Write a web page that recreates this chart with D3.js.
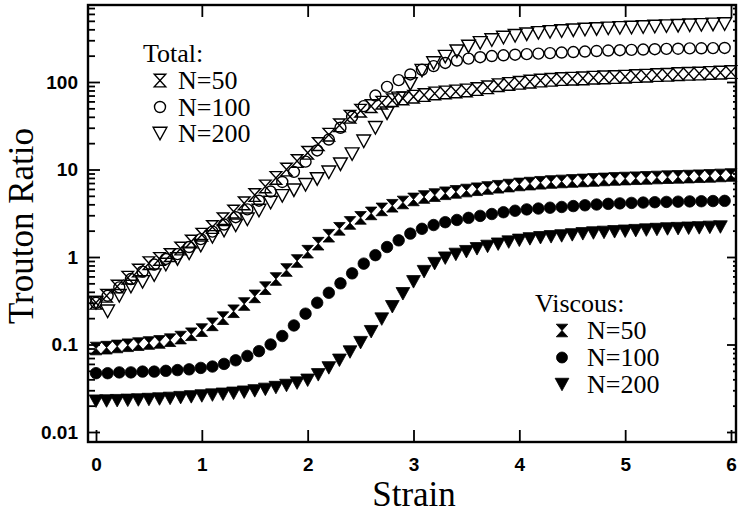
<!DOCTYPE html>
<html><head><meta charset="utf-8">
<script src="https://cdn.jsdelivr.net/npm/d3@7"></script>
<style>body{margin:0;background:#fff}</style>
</head><body>
<svg id="chart" width="738" height="515"></svg>
<script>
// ---- data ----
const strainA = [0,0.11,0.22,0.33,0.44,0.55,0.66,0.77,0.88,0.99,1.10,1.21,1.32,1.43,1.54,1.65,1.76,1.87,1.98,2.09,2.20,2.31,2.42,2.53,2.64,2.75,2.86,2.97,3.08,3.19,3.30,3.41,3.52,3.63,3.74,3.85,3.96,4.07,4.18,4.29,4.40,4.51,4.62,4.73,4.84,4.95,5.06,5.17,5.28,5.39,5.50,5.61,5.72,5.83,5.94];
const strainB = [0,0.1,0.2,0.3,0.4,0.5,0.6,0.7,0.8,0.9,1.0,1.1,1.2,1.3,1.4,1.5,1.6,1.7,1.8,1.9,2.0,2.1,2.2,2.3,2.4,2.5,2.6,2.7,2.8,2.9,3.0,3.1,3.2,3.3,3.4,3.5,3.6,3.7,3.8,3.9,4.0,4.1,4.2,4.3,4.4,4.5,4.6,4.7,4.8,4.9,5.0,5.1,5.2,5.3,5.4,5.5,5.6,5.7,5.8,5.9,6.0];

// Viscous (filled symbols)
const viscous50 = [0.090,0.092,0.095,0.098,0.101,0.104,0.107,0.112,0.120,0.131,0.146,0.170,0.200,0.240,0.290,0.355,0.44,0.56,0.71,0.90,1.15,1.42,1.75,2.10,2.45,2.80,3.15,3.50,3.85,4.20,4.55,4.85,5.10,5.35,5.55,5.75,5.95,6.15,6.35,6.55,6.75,6.90,7.05,7.20,7.30,7.40,7.50,7.60,7.70,7.80,7.88,7.95,8.02,8.10,8.17,8.24,8.30,8.38,8.45,8.55,8.65];
const viscous100 = [0.047,0.047,0.048,0.048,0.049,0.049,0.050,0.051,0.052,0.054,0.056,0.060,0.066,0.074,0.084,0.100,0.125,0.165,0.225,0.30,0.39,0.50,0.65,0.84,1.05,1.30,1.55,1.85,2.10,2.32,2.50,2.65,2.80,2.95,3.10,3.25,3.38,3.50,3.58,3.66,3.73,3.82,3.90,3.98,4.05,4.10,4.15,4.19,4.23,4.26,4.29,4.32,4.34,4.36,4.38];
const viscous200 = [0.0225,0.0226,0.0228,0.0230,0.0232,0.0235,0.0238,0.0242,0.0247,0.0252,0.0258,0.0264,0.0270,0.0277,0.0285,0.0295,0.0307,0.0322,0.0340,0.0362,0.039,0.045,0.054,0.066,0.082,0.105,0.140,0.195,0.27,0.38,0.52,0.68,0.84,0.97,1.07,1.15,1.24,1.32,1.40,1.48,1.55,1.61,1.66,1.70,1.74,1.79,1.84,1.88,1.91,1.94,1.97,2.00,2.03,2.06,2.09,2.11,2.13,2.15,2.18,2.20];

// Total (open symbols)
const total50 = [0.30,0.36,0.46,0.58,0.70,0.85,0.95,1.05,1.25,1.50,1.80,2.2,2.7,3.3,4.1,5.1,6.4,8.0,10.0,12.5,15.5,19.5,25,32,40,47,53,58,62,65,68,71,74,76,78,80,83,87,92,95,98,101,104,106,108,109,110,112,113,114,115,117,118,120,121,123,124,125,127,128,130];
const total100 = [0.30,0.36,0.45,0.56,0.68,0.82,0.95,1.08,1.30,1.60,1.95,2.35,2.85,3.5,4.4,5.6,7.2,9.4,12.3,16.5,22,30,40,53,70,88,105,122,138,152,165,176,185,192,198,202,205,208,211,214,217,220,223,226,229,231,233,235,237,239,240,242,243,244,245];
const total200 = [0.30,0.24,0.36,0.46,0.52,0.62,0.82,0.95,1.10,1.35,1.70,2.00,2.30,2.70,3.40,4.20,5.00,5.80,6.70,7.80,9.3,11.5,15,21,30,44,65,95,135,165,195,225,255,280,302,322,338,352,364,374,383,391,398,404,410,415,420,425,430,435,440,445,450,455,460];

const xTickValues = [0,1,2,3,4,5,6];
const xTickLabels = ["0","1","2","3","4","5","6"];
const yTickValues = [0.01,0.1,1,10,100];
const yTickLabels = ["0.01","0.1","1","10","100"];
const yMinorValues = [0.02,0.03,0.04,0.05,0.06,0.07,0.08,0.09,0.2,0.3,0.4,0.5,0.6,0.7,0.8,0.9,2,3,4,5,6,7,8,9,20,30,40,50,60,70,80,90,200,300,400,500,600,700];

const legendTotal = ["N=50","N=100","N=200"];
const legendViscous = ["N=50","N=100","N=200"];

// ---- layout ----
const svg = d3.select("#chart");
const L = 88, R = 736, T = 5, B = 442;
const x = d3.scaleLinear().domain([0, 6]).range([96, 731]);
const y = d3.scaleLog().domain([0.01, 1000]).range([432, -5.5]);

// symbol paths
function hourglass(s){ const w=s*0.5, h=s*0.55; return `M${-w},${-h}L${w},${-h}L${-w},${h}L${w},${h}Z`; }
function triDown(s){ const w=s*0.55, h=s*0.5; return `M${-w},${-h}L${w},${-h}L0,${h}Z`; }
function circle(s){ const r=s*0.5; return `M${r},0A${r},${r} 0 1,1 ${-r},0A${r},${r} 0 1,1 ${r},0Z`; }

const series = [
  {xs: strainB, ys: total50,   shape: hourglass, size: 11.5, filled: false},
  {xs: strainA, ys: total100,  shape: circle,    size: 11,   filled: false},
  {xs: strainA, ys: total200,  shape: triDown,   size: 12.5, filled: false},
  {xs: strainB, ys: viscous50, shape: hourglass, size: 11.5, filled: true},
  {xs: strainA, ys: viscous100,shape: circle,    size: 11.5, filled: true},
  {xs: strainB, ys: viscous200,shape: triDown,   size: 12.5, filled: true}
];

series.forEach(s => {
  const pts = s.ys.map((v, i) => [s.xs[i], v]);
  svg.append("g").selectAll("path").data(pts).join("path")
    .attr("transform", d => `translate(${x(d[0])},${y(d[1])})`)
    .attr("d", s.shape(s.size))
    .attr("fill", s.filled ? "#000" : "none")
    .attr("stroke", "#000")
    .attr("stroke-width", s.filled ? 0.8 : 1.4)
    .attr("stroke-linejoin", "miter");
});

// axes
const tickFont = "'Liberation Sans', Arial, Helvetica, sans-serif";
function styleAxis(g){
  g.select(".domain").remove();
  g.selectAll(".tick line").attr("stroke","#000").attr("stroke-width",1.8);
  g.selectAll(".tick text").attr("fill","#000").attr("font-family",tickFont).attr("font-weight","bold").attr("font-size",19);
}
svg.append("g").attr("transform",`translate(${L},0)`)
  .call(d3.axisLeft(y).tickValues(yTickValues).tickSize(-12).tickPadding(10).tickFormat((d,i)=>yTickLabels[i]))
  .call(styleAxis);
svg.append("g").attr("transform",`translate(${L},0)`)
  .call(d3.axisLeft(y).tickValues(yMinorValues).tickSize(-7).tickFormat(""))
  .call(styleAxis);
svg.append("g").attr("transform",`translate(${R},0)`)
  .call(d3.axisRight(y).tickValues(yTickValues).tickSize(-9).tickFormat(""))
  .call(styleAxis);
svg.append("g").attr("transform",`translate(${R},0)`)
  .call(d3.axisRight(y).tickValues(yMinorValues).tickSize(-3).tickFormat(""))
  .call(styleAxis);
svg.append("g").attr("transform",`translate(0,${B})`)
  .call(d3.axisBottom(x).tickValues(xTickValues).tickSize(-12).tickPadding(16).tickFormat((d,i)=>xTickLabels[i]))
  .call(styleAxis);
svg.append("g").attr("transform",`translate(0,${T})`)
  .call(d3.axisTop(x).tickValues(xTickValues.slice(1)).tickSize(-12).tickFormat(""))
  .call(styleAxis);

// frame
svg.append("rect").attr("x",L).attr("y",T).attr("width",R-L).attr("height",B-T)
  .attr("fill","none").attr("stroke","#000").attr("stroke-width",2.4);

// titles
const serif = "'Liberation Serif', 'Times New Roman', Times, serif";
svg.append("text").attr("x",414).attr("y",506).attr("text-anchor","middle")
  .attr("font-family",serif).attr("font-size",35).text("Strain");
svg.append("text").attr("transform","translate(33,226) rotate(-90)").attr("text-anchor","middle")
  .attr("font-family",serif).attr("font-size",35).text("Trouton Ratio");

// legends
function legend(title, tx, ty, symX, textX, rows, gap, labels, filled){
  svg.append("text").attr("x",tx).attr("y",ty).attr("font-family",serif).attr("font-size",26).text(title);
  const shapes = [hourglass, circle, triDown];
  const sizes = [11.5, 11, 12.5];
  labels.forEach((lab,i) => {
    const by = rows + i*gap;
    svg.append("path").attr("transform",`translate(${symX},${by-8.5})`).attr("d",shapes[i](sizes[i]))
      .attr("fill", filled ? "#000" : "none").attr("stroke","#000").attr("stroke-width", filled?0.8:1.4);
    svg.append("text").attr("x",textX).attr("y",by).attr("font-family",serif).attr("font-size",26).text(lab);
  });
}
legend("Total:", 143, 62, 160, 178, 89, 26.5, legendTotal, false);
legend("Viscous:", 535, 312, 562, 587, 339, 27, legendViscous, true);
</script>
</body></html>
